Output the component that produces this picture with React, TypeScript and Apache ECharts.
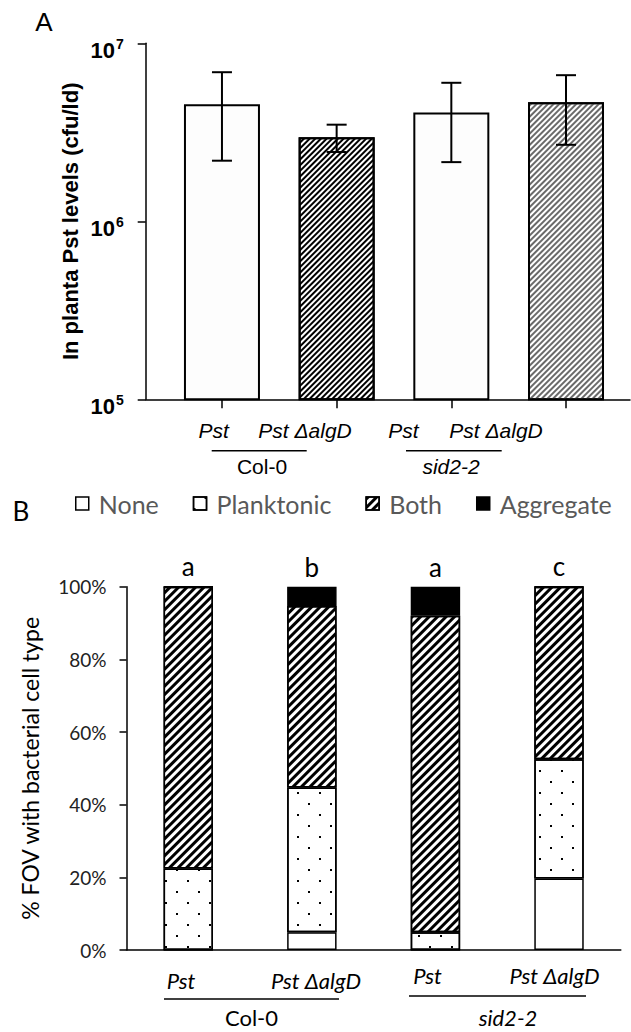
import React, { useEffect, useRef } from "react";
import * as echarts from "echarts";

// ---------- Panel A data ----------
const topCategories = ["Pst", "Pst ΔalgD", "Pst", "Pst ΔalgD"];
const topPositions = [1, 2, 3, 4];
const topMeans = [4.55e6, 2.97e6, 4.09e6, 4.66e6];
const topErrLow = [2.19e6, 2.45e6, 2.15e6, 2.69e6];
const topErrHigh = [6.88e6, 3.49e6, 6.0e6, 6.62e6];
const topTicks = [1e5, 1e6, 1e7];
const groupNames = ["Col-0", "sid2-2"];

// ---------- Panel B data ----------
const bottomCategories = ["Pst", "Pst ΔalgD", "Pst", "Pst ΔalgD"];
const seriesNames = ["None", "Planktonic", "Both", "Aggregate"];
const noneVals = [0, 4.9, 0, 19.7];
const planktonicVals = [22.4, 39.8, 4.9, 32.8];
const bothVals = [77.6, 50.0, 87.1, 47.5];
const aggregateVals = [0, 5.3, 8.0, 0];
const sigLetters = ["a", "b", "a", "c"];

const ARIAL = "'Liberation Sans', Arial, sans-serif";
const CAL = "Lato, 'Open Sans', sans-serif";

const hatch = (color: string, on: number, off: number) => ({
  symbol: "rect",
  symbolSize: 1,
  color,
  backgroundColor: "transparent",
  dashArrayX: [1, 0],
  dashArrayY: [on, off],
  rotation: -Math.PI / 4,
});

const dots = {
  symbol: "rect",
  symbolSize: 1,
  color: "#000",
  backgroundColor: "transparent",
  dashArrayX: [
    [2, 20],
    [0, 11, 2, 9],
  ],
  dashArrayY: [2, 9],
  rotation: 0,
};

const topStyles = [
  { color: "#fdfdfd", borderColor: "#000", borderWidth: 2 },
  { color: "#fff", borderColor: "#000", borderWidth: 2, decal: hatch("#000", 1.2, 1.8) },
  { color: "#fdfdfd", borderColor: "#000", borderWidth: 2 },
  { color: "#fff", borderColor: "#000", borderWidth: 2, decal: hatch("#6a6a6a", 1.2, 1.8) },
];

export default function App() {
  const ref = useRef<HTMLDivElement>(null);
  useEffect(() => {
    if (!ref.current) return;
    const chart = echarts.init(ref.current, null, { renderer: "svg" });

    const text = (
      str: string,
      x: number,
      y: number,
      font: string,
      size: number,
      italic = false,
      extra: any = {}
    ) => ({
      type: "text",
      x,
      y,
      style: {
        text: str,
        fontFamily: font,
        fontSize: size,
        fontStyle: italic ? "italic" : "normal",
        fill: "#000",
        align: "center",
        verticalAlign: "middle",
        ...extra,
      },
    });
    const hline = (x1: number, x2: number, y: number) => ({
      type: "line",
      shape: { x1, y1: y, x2, y2: y },
      style: { stroke: "#000", lineWidth: 1.5 },
    });

    const option: any = {
      animation: false,
      backgroundColor: "#fff",
      grid: [
        { left: 145.7, top: 43.3, width: 484.3, height: 356, outerBoundsMode: "none" },
        { left: 126.5, top: 586.7, width: 494.3, height: 363.3, outerBoundsMode: "none" },
      ],
      xAxis: [
        {
          type: "value",
          gridIndex: 0,
          min: 0.335,
          max: 4.558,
          axisLine: { show: true, lineStyle: { color: "#000", width: 1.5 } },
          axisTick: { show: true, length: 9, customValues: topPositions, lineStyle: { color: "#000", width: 1.5 } },
          axisLabel: { show: false },
          splitLine: { show: false },
        },
        {
          type: "category",
          gridIndex: 1,
          data: bottomCategories,
          axisLine: { show: true, lineStyle: { color: "#000", width: 1.5 } },
          axisTick: { show: false },
          axisLabel: { show: false },
          splitLine: { show: false },
        },
      ],
      yAxis: [
        {
          type: "log",
          gridIndex: 0,
          logBase: 10,
          min: 1e5,
          max: 1e7,
          name: "In planta Pst levels (cfu/ld)",
          nameLocation: "middle",
          nameRotate: 90,
          nameGap: 64,
          nameTextStyle: { fontFamily: ARIAL, fontWeight: "bold", fontSize: 22, color: "#000" },
          axisLine: { show: true, lineStyle: { color: "#000", width: 1.5 } },
          axisTick: { show: true, length: 8, lineStyle: { color: "#000", width: 1.5 } },
          minorTick: { show: false },
          splitLine: { show: false },
          axisLabel: { show: false },
        },
        {
          type: "value",
          gridIndex: 1,
          min: 0,
          max: 100,
          interval: 20,
          name: "% FOV with bacterial cell type",
          nameLocation: "middle",
          nameRotate: 90,
          nameGap: 85,
          nameTextStyle: { fontFamily: CAL, fontSize: 23, color: "#000" },
          axisLine: { show: true, lineStyle: { color: "#000", width: 1.5 } },
          axisTick: { show: true, length: 7, lineStyle: { color: "#000", width: 1.5 } },
          splitLine: { show: false },
          axisLabel: {
            margin: 20,
            formatter: "{value}%",
            fontFamily: CAL,
            fontSize: 19,
            color: "#222",
          },
        },
      ],
      legend: {
        data: seriesNames,
        left: 75,
        top: 491,
        padding: 0,
        icon: "rect",
        itemWidth: 13,
        itemHeight: 13,
        itemGap: 34,
        itemStyle: { borderColor: "#000", borderWidth: 1.5 },
        textStyle: { fontFamily: CAL, fontSize: 25, color: "#595959", padding: [0, 0, 0, 5] },
      },
      series: [
        {
          type: "bar",
          name: "Panel A",
          xAxisIndex: 0,
          yAxisIndex: 0,
          barWidth: 76,
          data: topPositions.map((p, i) => ({ value: [p, topMeans[i]], itemStyle: topStyles[i] })),
          z: 2,
        },
        {
          type: "custom",
          name: "errors",
          xAxisIndex: 0,
          yAxisIndex: 0,
          data: topPositions.map((p, i) => [p, topErrLow[i], topErrHigh[i]]),
          encode: { x: 0, y: [1, 2] },
          z: 5,
          renderItem: (params: any, api: any) => {
            const x = api.value(0);
            const lo = api.coord([x, api.value(1)]);
            const hi = api.coord([x, api.value(2)]);
            const w = 10;
            const st = { stroke: "#000", lineWidth: 2 };
            return {
              type: "group",
              children: [
                { type: "line", shape: { x1: hi[0], y1: hi[1], x2: lo[0], y2: lo[1] }, style: st },
                { type: "line", shape: { x1: hi[0] - w, y1: hi[1], x2: hi[0] + w, y2: hi[1] }, style: st },
                { type: "line", shape: { x1: lo[0] - w, y1: lo[1], x2: lo[0] + w, y2: lo[1] }, style: st },
              ],
            };
          },
        },
        {
          type: "bar",
          name: "None",
          xAxisIndex: 1,
          yAxisIndex: 1,
          stack: "fov",
          barWidth: "40%",
          data: noneVals,
          itemStyle: { color: "#fff", borderColor: "#000", borderWidth: 1.5 },
        },
        {
          type: "bar",
          name: "Planktonic",
          xAxisIndex: 1,
          yAxisIndex: 1,
          stack: "fov",
          barWidth: "40%",
          data: planktonicVals,
          itemStyle: { color: "#fff", borderColor: "#000", borderWidth: 1.5, decal: dots },
        },
        {
          type: "bar",
          name: "Both",
          xAxisIndex: 1,
          yAxisIndex: 1,
          stack: "fov",
          barWidth: "40%",
          data: bothVals,
          itemStyle: { color: "#fff", borderColor: "#000", borderWidth: 1.5, decal: hatch("#000", 2.2, 2.2) },
        },
        {
          type: "bar",
          name: "Aggregate",
          xAxisIndex: 1,
          yAxisIndex: 1,
          stack: "fov",
          barWidth: "40%",
          data: aggregateVals,
          itemStyle: { color: "#000", borderColor: "#000", borderWidth: 1.5 },
          label: {
            show: true,
            position: "top",
            distance: 7,
            formatter: (p: any) => sigLetters[p.dataIndex],
            fontFamily: CAL,
            fontSize: 26,
            color: "#000",
          },
        },
      ],
    };
    chart.setOption(option);

    // log-axis tick labels (10^n), placed through the axis scale
    const tickLabels: any[] = [];
    topTicks.forEach((v) => {
      const y = chart.convertToPixel({ yAxisIndex: 0 }, v) as number;
      const e = Math.round(Math.log10(v));
      tickLabels.push(
        text("10", 115, y + 7.5, ARIAL, 22, false, { align: "right", fontWeight: "bold" }),
        text(String(e), 116, y + 0.5, ARIAL, 14, false, { align: "left", fontWeight: "bold" })
      );
    });

    chart.setOption({
      graphic: [
        ...tickLabels,
        text("A", 44, 22, ARIAL, 26),
        // panel A x labels
        text(topCategories[0], 213.7, 430, ARIAL, 21, true),
        text(topCategories[1], 305, 430, ARIAL, 21, true),
        text(topCategories[2], 403.5, 430, ARIAL, 21, true),
        text(topCategories[3], 496, 430, ARIAL, 21, true),
        hline(211.7, 306.7, 450.7),
        hline(406, 501.7, 450.7),
        text(groupNames[0], 262, 466, ARIAL, 21, false),
        text(groupNames[1], 451, 466, ARIAL, 21, true),
        // panel B
        text("B", 21, 511, CAL, 26),
        text(bottomCategories[0], 181, 980, CAL, 22, true),
        text(bottomCategories[1], 316, 980, CAL, 22, true),
        text(bottomCategories[2], 427.5, 975, CAL, 22, true),
        text(bottomCategories[3], 554.5, 975, CAL, 22, true),
        hline(164, 339, 999),
        hline(409, 586, 996),
        text(groupNames[0], 251.5, 1017, CAL, 22, false),
        text(groupNames[1], 508, 1017, CAL, 22, true),
      ],
    });
    return () => chart.dispose();
  }, []);

  return (
    <div
      ref={ref}
      style={{ position: "absolute", left: 0, top: 0, width: 631, height: 1032, background: "#fff" }}
    />
  );
}
